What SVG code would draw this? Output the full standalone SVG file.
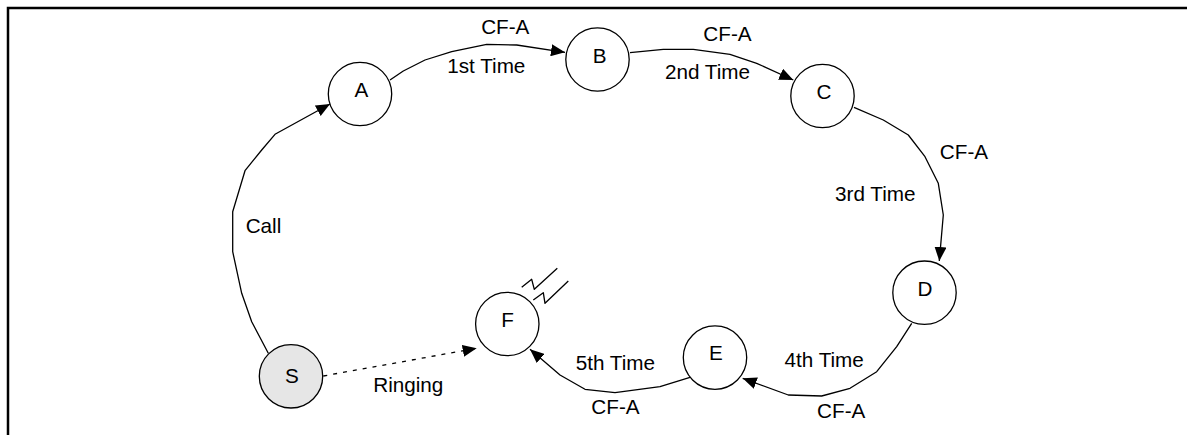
<svg xmlns="http://www.w3.org/2000/svg" width="1187" height="435" viewBox="0 0 1187 435">
  <style>
    .node circle { fill: #ffffff; stroke: #000000; stroke-width: 1.3; }
    .node.start circle { fill: #e6e6e6; }
    text { font-family: "Liberation Sans", Arial, sans-serif; font-size: 20.7px; fill: #000000; }
    .nl { text-anchor: middle; }
    .lbl { text-anchor: middle; }
    .conn { fill: none; stroke: #000000; stroke-width: 1.3; stroke-linejoin: round; }
    .dash { stroke-dasharray: 4 6; }
    .frame { fill: none; stroke: #000000; stroke-width: 2.5; }
  </style>
  <defs>
    <marker id="arrow" markerUnits="userSpaceOnUse" markerWidth="16" markerHeight="12" refX="14" refY="6" orient="auto">
      <path d="M0,0 L14,6 L0,12 Z" fill="#000000"/>
    </marker>
  </defs>
  <rect width="1187" height="435" fill="#ffffff"/>
  <path class="frame" d="M8,435 V8 H1187"/>

  <g id="connectors">
    <polyline class="conn" marker-end="url(#arrow)" points="268.3,353.3 251.7,321.7 241.7,293.3 232.7,251.7 232.7,211.7 245,170.7 261.7,150 275,134.3 330,104"/>
    <polyline class="conn" marker-end="url(#arrow)" points="390,80 403.3,71 425,60 451.7,51.7 486.7,44.3 516.7,45 565,52.3"/>
    <polyline class="conn" marker-end="url(#arrow)" points="630,52.7 663.3,49.3 693.3,49.3 730,54.3 756.7,63.3 793.3,80"/>
    <polyline class="conn" marker-end="url(#arrow)" points="854,107.3 883.3,120 908.3,135 925,156.7 938.3,183.3 943.3,215 939.3,261"/>
    <polyline class="conn" marker-end="url(#arrow)" points="911.7,323.3 896.7,346.7 876.7,371.7 850,388.3 821.7,396 788.3,395 742.7,378.3"/>
    <polyline class="conn" marker-end="url(#arrow)" points="690,377.3 660,386.7 615,392.7 585,389.3 560,375 530,349.3"/>
    <polyline class="conn dash" marker-end="url(#arrow)" points="323.3,376 476.7,348.3"/>
    <text class="lbl" x="263.5" y="233.3">Call</text>
    <text class="lbl" x="505.3" y="34.3">CF-A</text>
    <text class="lbl" x="486.3" y="73.3">1st Time</text>
    <text class="lbl" x="727.5" y="40.7">CF-A</text>
    <text class="lbl" x="707.5" y="79">2nd Time</text>
    <text class="lbl" x="964" y="159">CF-A</text>
    <text class="lbl" x="875.3" y="200.7">3rd Time</text>
    <text class="lbl" x="824.2" y="366.7">4th Time</text>
    <text class="lbl" x="841.2" y="418.3">CF-A</text>
    <text class="lbl" x="615.3" y="370">5th Time</text>
    <text class="lbl" x="615.5" y="414">CF-A</text>
    <text class="lbl" x="408.3" y="391.7">Ringing</text>
  </g>

  <g id="node-S" class="node start">
    <circle cx="291" cy="376.3" r="31.7"/>
    <text class="nl" x="292" y="383.3">S</text>
  </g>
  <g id="node-A" class="node">
    <circle cx="360" cy="94" r="31.7"/>
    <text class="nl" x="361.3" y="97.3">A</text>
  </g>
  <g id="node-B" class="node">
    <circle cx="597.5" cy="59.5" r="31.7"/>
    <text class="nl" x="599.7" y="63.3">B</text>
  </g>
  <g id="node-C" class="node">
    <circle cx="822.5" cy="96" r="31.7"/>
    <text class="nl" x="824" y="99.3">C</text>
  </g>
  <g id="node-D" class="node">
    <circle cx="924.5" cy="292.7" r="31.7"/>
    <text class="nl" x="925" y="296">D</text>
  </g>
  <g id="node-E" class="node">
    <circle cx="715" cy="357.6" r="31.7"/>
    <text class="nl" x="716" y="360.3">E</text>
  </g>
  <g id="node-F" class="node">
    <circle cx="507.3" cy="324" r="31.7"/>
    <text class="nl" x="507.5" y="326.7">F</text>
    <polyline class="conn" stroke-width="1" points="521.7,287.3 531.7,279.3 534.3,289.3 557.3,268.3"/>
    <polyline class="conn" stroke-width="1" points="533.3,300 543.3,292.7 545,303.3 568.3,281"/>
  </g>
</svg>
